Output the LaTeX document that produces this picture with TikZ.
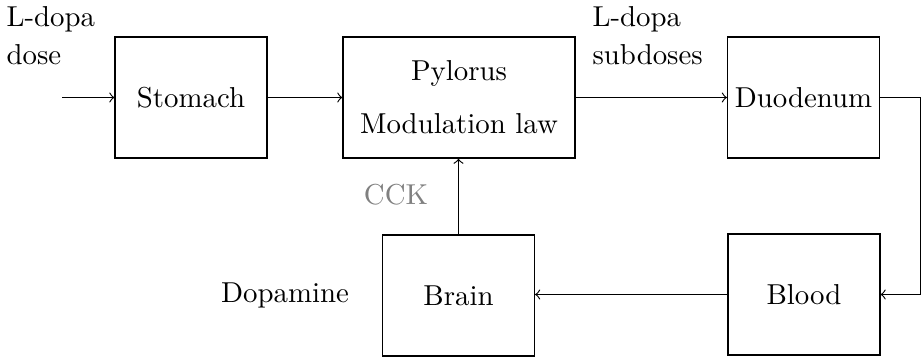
\documentclass[tikz,border=0pt]{standalone}
\begin{document}
\begin{tikzpicture}[x=0.347pt,y=-0.347pt,
  blk/.style={draw, inner sep=0pt, minimum height=42pt, minimum width=52.7pt, align=center},
  conn/.style={->},
  lbl/.style={align=left, inner sep=0pt}]
\useasboundingbox (0,0) rectangle (922,358);
\node[blk] (stomach) at (191,97.5) {Stomach};
\node[blk, minimum width=80.5pt] (pylorus) at (459,97.5) {Pylorus\\[6.4pt]Modulation law};
\node[blk] (duodenum) at (803.5,97.5) {Duodenum};
\node[blk] (brain) at (458.5,295.5) {Brain};
\node[blk] (blood) at (804,294.5) {Blood};
\node[lbl, anchor=west] (dose) at (6,36) {L-dopa\\[1.2pt]dose};
\node[lbl, anchor=west] (subdoses) at (592,36) {L-dopa\\[1.2pt]subdoses};
\node[inner sep=0pt, text=gray] (cck) at (396,195) {CCK};
\node[inner sep=0pt] (dopamine) at (285,295) {Dopamine};
\coordinate (in) at (62,97.5);
\coordinate (turn) at (920.5,97.5);
\draw[conn] (in) -- (stomach.west |- in);
\draw[conn] (stomach.east |- in) -- (pylorus.west |- in);
\draw[conn] (pylorus.east |- in) -- (duodenum.west |- in);
\draw[conn] (duodenum.east |- in) -- (turn) |- (blood.east);
\draw[conn] (blood.west) -- (brain.east |- blood.west);
\draw[conn] (brain.north) -- (pylorus.south -| brain.north);
\end{tikzpicture}
\end{document}
